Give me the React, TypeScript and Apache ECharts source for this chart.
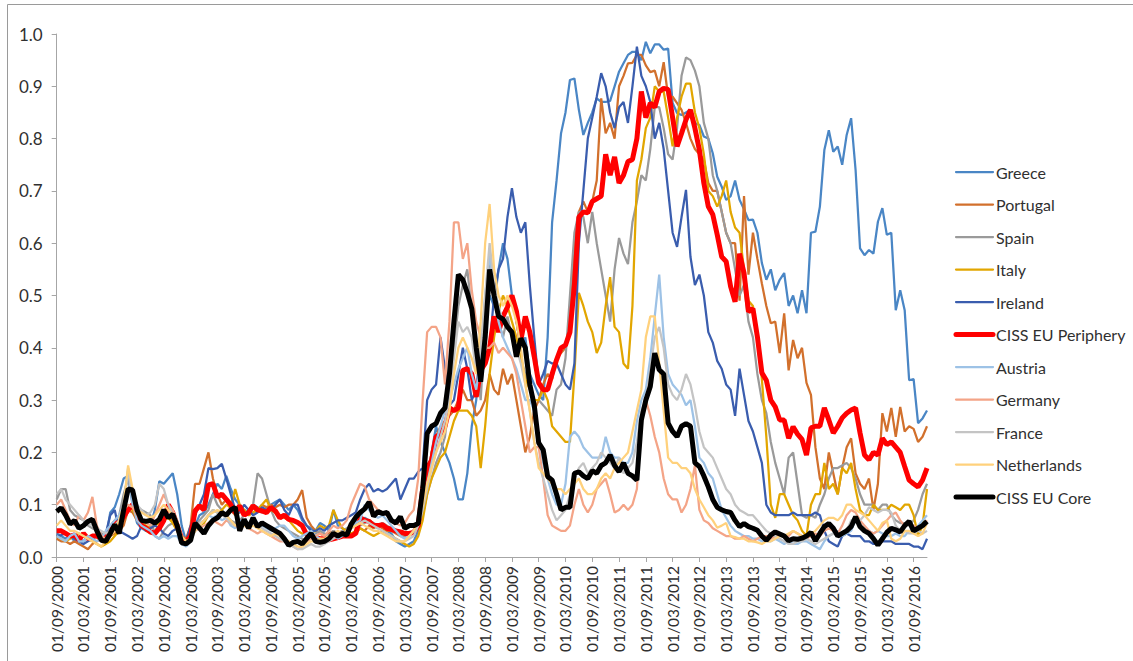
import React, { useEffect, useRef } from "react";
import * as echarts from "echarts";

// Monthly categories from 01/09/2000 to 01/12/2016
const START_YEAR = 2000;
const START_MONTH = 9;
const MONTH_COUNT = 196;
const categories: string[] = [];
for (let i = 0; i < MONTH_COUNT; i++) {
  const m = START_MONTH - 1 + i;
  const y = START_YEAR + Math.floor(m / 12);
  const mm = (m % 12) + 1;
  categories.push(`01/${String(mm).padStart(2, "0")}/${y}`);
}

const yTicks = [0, 0.1, 0.2, 0.3, 0.4, 0.5, 0.6, 0.7, 0.8, 0.9, 1.0];

// each row: Sep..Aug of one year
const greece = [
  0.045,0.04,0.035,0.04,0.03,0.035,0.03,0.04,0.03,0.045,0.03,0.035,
  0.085,0.095,0.12,0.15,0.155,0.1,0.065,0.055,0.05,0.06,0.09,0.145,
  0.14,0.15,0.16,0.12,0.06,0.03,0.035,0.06,0.08,0.085,0.1,0.12,
  0.14,0.13,0.155,0.13,0.11,0.1,0.09,0.085,0.1,0.095,0.085,0.09,
  0.1,0.105,0.11,0.1,0.09,0.1,0.09,0.07,0.06,0.055,0.05,0.065,
  0.06,0.05,0.09,0.06,0.055,0.05,0.06,0.07,0.065,0.075,0.07,0.06,
  0.055,0.06,0.05,0.045,0.03,0.025,0.02,0.025,0.03,0.05,0.09,0.14,
  0.2,0.25,0.22,0.2,0.18,0.15,0.11,0.11,0.16,0.25,0.3,0.4,
  0.45,0.5,0.48,0.55,0.6,0.57,0.5,0.45,0.4,0.42,0.35,0.33,
  0.31,0.3,0.42,0.64,0.72,0.81,0.85,0.912,0.915,0.855,0.807,0.83,
  0.85,0.877,0.87,0.87,0.872,0.9,0.928,0.944,0.96,0.966,0.966,0.95,
  0.985,0.963,0.98,0.98,0.97,0.972,0.868,0.849,0.845,0.85,0.855,0.83,
  0.826,0.804,0.8,0.772,0.727,0.708,0.683,0.69,0.72,0.683,0.665,0.644,
  0.645,0.62,0.562,0.53,0.55,0.51,0.53,0.543,0.48,0.5,0.466,0.51,
  0.466,0.62,0.622,0.67,0.778,0.816,0.775,0.785,0.75,0.807,0.839,0.74,
  0.59,0.577,0.587,0.58,0.641,0.667,0.616,0.62,0.472,0.51,0.472,0.338,
  0.34,0.256,0.265,0.28,
];

const portugal = [
  0.035,0.03,0.03,0.025,0.03,0.025,0.02,0.015,0.025,0.03,0.035,0.04,
  0.04,0.045,0.05,0.06,0.09,0.085,0.07,0.06,0.05,0.045,0.05,0.06,
  0.07,0.08,0.07,0.06,0.04,0.035,0.06,0.14,0.14,0.17,0.2,0.15,
  0.12,0.1,0.11,0.09,0.08,0.085,0.09,0.08,0.085,0.09,0.1,0.095,
  0.1,0.095,0.1,0.095,0.1,0.1,0.11,0.128,0.075,0.06,0.05,0.045,
  0.04,0.045,0.05,0.045,0.05,0.045,0.04,0.045,0.055,0.05,0.06,0.055,
  0.06,0.055,0.05,0.05,0.045,0.04,0.04,0.045,0.05,0.06,0.1,0.14,
  0.2,0.23,0.25,0.26,0.27,0.28,0.3,0.32,0.3,0.3,0.27,0.28,
  0.3,0.35,0.32,0.31,0.36,0.33,0.35,0.3,0.25,0.2,0.23,0.28,
  0.3,0.33,0.35,0.34,0.38,0.39,0.4,0.45,0.6,0.66,0.68,0.66,
  0.68,0.72,0.877,0.81,0.83,0.8,0.9,0.92,0.944,0.945,0.96,0.96,
  0.94,0.927,0.93,0.9,0.946,0.88,0.88,0.868,0.855,0.83,0.8,0.78,
  0.77,0.76,0.715,0.7,0.7,0.66,0.62,0.6,0.6,0.49,0.69,0.54,
  0.62,0.57,0.523,0.48,0.447,0.45,0.39,0.466,0.357,0.415,0.38,0.4,
  0.333,0.31,0.21,0.15,0.13,0.2,0.16,0.12,0.17,0.21,0.227,0.16,
  0.14,0.13,0.15,0.09,0.14,0.275,0.24,0.285,0.23,0.287,0.24,0.25,
  0.245,0.22,0.23,0.25,
];

const spain = [
  0.11,0.13,0.13,0.09,0.08,0.075,0.07,0.06,0.055,0.05,0.045,0.04,
  0.06,0.07,0.08,0.12,0.15,0.11,0.095,0.09,0.085,0.08,0.04,0.035,
  0.05,0.06,0.065,0.05,0.035,0.03,0.04,0.06,0.07,0.08,0.09,0.12,
  0.1,0.09,0.08,0.07,0.065,0.07,0.08,0.09,0.1,0.16,0.15,0.12,
  0.09,0.07,0.06,0.055,0.05,0.045,0.04,0.035,0.03,0.04,0.045,0.05,
  0.045,0.04,0.05,0.045,0.05,0.055,0.06,0.065,0.06,0.065,0.07,0.065,
  0.06,0.065,0.06,0.055,0.05,0.045,0.04,0.045,0.05,0.06,0.08,0.12,
  0.15,0.18,0.2,0.23,0.3,0.4,0.48,0.52,0.55,0.47,0.38,0.3,
  0.45,0.58,0.5,0.45,0.42,0.46,0.42,0.4,0.38,0.35,0.33,0.3,
  0.3,0.29,0.28,0.27,0.32,0.33,0.38,0.5,0.62,0.66,0.65,0.6,
  0.66,0.6,0.55,0.5,0.45,0.55,0.61,0.58,0.56,0.64,0.68,0.73,
  0.72,0.78,0.86,0.86,0.82,0.77,0.76,0.82,0.92,0.955,0.95,0.93,
  0.9,0.83,0.8,0.73,0.7,0.66,0.62,0.6,0.55,0.5,0.52,0.45,
  0.42,0.35,0.3,0.275,0.22,0.18,0.15,0.12,0.19,0.2,0.14,0.08,
  0.075,0.08,0.075,0.1,0.12,0.15,0.17,0.17,0.175,0.18,0.17,0.15,
  0.12,0.1,0.1,0.1,0.09,0.1,0.1,0.08,0.07,0.065,0.065,0.06,
  0.07,0.09,0.12,0.14,
];

const italy = [
  0.04,0.035,0.03,0.035,0.04,0.045,0.04,0.035,0.03,0.025,0.02,0.025,
  0.03,0.04,0.05,0.08,0.095,0.09,0.075,0.07,0.06,0.055,0.06,0.065,
  0.07,0.075,0.065,0.05,0.035,0.03,0.04,0.05,0.06,0.065,0.08,0.09,
  0.085,0.09,0.1,0.095,0.13,0.1,0.09,0.08,0.085,0.09,0.1,0.11,
  0.09,0.085,0.08,0.075,0.07,0.06,0.05,0.045,0.04,0.045,0.05,0.06,
  0.055,0.06,0.09,0.07,0.055,0.05,0.045,0.05,0.055,0.05,0.045,0.04,
  0.045,0.05,0.045,0.04,0.035,0.03,0.025,0.02,0.025,0.04,0.07,0.12,
  0.15,0.17,0.19,0.2,0.23,0.26,0.28,0.28,0.28,0.27,0.25,0.17,
  0.25,0.35,0.42,0.47,0.5,0.48,0.45,0.42,0.38,0.34,0.32,0.3,
  0.3,0.32,0.3,0.25,0.24,0.23,0.22,0.22,0.35,0.505,0.48,0.45,
  0.43,0.39,0.41,0.48,0.535,0.44,0.43,0.37,0.36,0.48,0.72,0.76,
  0.82,0.84,0.9,0.89,0.89,0.84,0.785,0.84,0.88,0.905,0.905,0.85,
  0.82,0.77,0.7,0.69,0.67,0.69,0.72,0.66,0.63,0.62,0.55,0.49,
  0.48,0.42,0.34,0.23,0.1,0.075,0.12,0.12,0.1,0.08,0.07,0.05,
  0.04,0.1,0.12,0.12,0.18,0.13,0.14,0.12,0.17,0.16,0.18,0.13,
  0.09,0.08,0.08,0.1,0.09,0.09,0.09,0.1,0.095,0.09,0.1,0.1,
  0.08,0.04,0.06,0.13,
];

const ireland = [
  0.04,0.042,0.045,0.04,0.035,0.03,0.025,0.03,0.035,0.04,0.035,0.045,
  0.08,0.09,0.05,0.045,0.04,0.035,0.04,0.06,0.05,0.055,0.06,0.055,
  0.045,0.04,0.05,0.055,0.04,0.03,0.06,0.08,0.1,0.12,0.17,0.168,
  0.17,0.178,0.15,0.12,0.09,0.085,0.1,0.09,0.08,0.085,0.095,0.09,
  0.09,0.1,0.11,0.09,0.08,0.1,0.1,0.075,0.06,0.05,0.05,0.055,
  0.05,0.06,0.065,0.07,0.07,0.075,0.08,0.085,0.11,0.13,0.14,0.125,
  0.13,0.125,0.13,0.14,0.15,0.11,0.13,0.15,0.15,0.163,0.17,0.3,
  0.32,0.33,0.42,0.36,0.29,0.3,0.35,0.4,0.36,0.3,0.32,0.4,
  0.38,0.4,0.5,0.55,0.57,0.65,0.705,0.65,0.62,0.64,0.52,0.42,
  0.33,0.35,0.375,0.37,0.37,0.35,0.33,0.32,0.37,0.6,0.7,0.8,
  0.84,0.88,0.925,0.9,0.85,0.82,0.86,0.87,0.83,0.9,0.976,0.92,
  0.9,0.87,0.8,0.83,0.78,0.7,0.62,0.593,0.65,0.702,0.574,0.52,
  0.54,0.5,0.43,0.41,0.375,0.36,0.33,0.32,0.27,0.36,0.31,0.26,
  0.24,0.21,0.18,0.1,0.085,0.08,0.08,0.08,0.08,0.085,0.08,0.08,
  0.08,0.08,0.085,0.08,0.05,0.03,0.025,0.02,0.04,0.045,0.04,0.04,
  0.04,0.03,0.03,0.025,0.025,0.03,0.03,0.03,0.025,0.025,0.025,0.025,
  0.02,0.02,0.015,0.035,
];

const cissPeriphery = [
  0.05,0.05,0.045,0.04,0.042,0.033,0.045,0.035,0.04,0.04,0.035,0.04,
  0.045,0.065,0.065,0.077,0.09,0.1,0.085,0.06,0.055,0.048,0.045,0.055,
  0.07,0.1,0.085,0.06,0.035,0.03,0.04,0.088,0.098,0.09,0.138,0.14,
  0.115,0.12,0.11,0.1,0.085,0.098,0.08,0.085,0.098,0.09,0.088,0.085,
  0.095,0.088,0.075,0.08,0.072,0.07,0.066,0.06,0.043,0.04,0.037,0.035,
  0.035,0.033,0.035,0.037,0.04,0.04,0.04,0.045,0.075,0.07,0.068,0.06,
  0.06,0.062,0.055,0.053,0.05,0.048,0.045,0.045,0.047,0.06,0.13,0.17,
  0.185,0.23,0.235,0.25,0.285,0.28,0.285,0.357,0.36,0.35,0.306,0.357,
  0.37,0.4,0.46,0.43,0.46,0.478,0.5,0.47,0.415,0.46,0.43,0.383,
  0.333,0.32,0.32,0.35,0.377,0.4,0.405,0.43,0.52,0.65,0.66,0.658,
  0.68,0.685,0.69,0.77,0.73,0.765,0.715,0.73,0.756,0.76,0.8,0.89,
  0.84,0.868,0.86,0.89,0.896,0.894,0.84,0.785,0.81,0.836,0.855,0.82,
  0.778,0.715,0.67,0.655,0.616,0.574,0.565,0.517,0.488,0.58,0.543,0.469,
  0.475,0.421,0.352,0.338,0.3,0.287,0.262,0.262,0.227,0.249,0.235,0.225,
  0.195,0.247,0.25,0.25,0.285,0.262,0.237,0.25,0.266,0.275,0.281,0.285,
  0.237,0.195,0.186,0.2,0.195,0.227,0.215,0.22,0.21,0.2,0.173,0.147,
  0.14,0.134,0.147,0.17,
];

const austria = [
  0.04,0.035,0.03,0.04,0.045,0.03,0.03,0.04,0.035,0.03,0.035,0.05,
  0.06,0.07,0.08,0.1,0.17,0.1,0.07,0.06,0.055,0.05,0.04,0.035,
  0.04,0.035,0.04,0.04,0.025,0.02,0.03,0.05,0.06,0.07,0.08,0.075,
  0.08,0.07,0.075,0.06,0.055,0.07,0.065,0.06,0.07,0.065,0.06,0.055,
  0.05,0.055,0.06,0.06,0.05,0.04,0.035,0.04,0.045,0.05,0.04,0.035,
  0.03,0.035,0.045,0.035,0.04,0.05,0.06,0.065,0.07,0.1,0.09,0.08,
  0.075,0.08,0.07,0.06,0.05,0.04,0.035,0.04,0.05,0.07,0.1,0.14,
  0.18,0.22,0.25,0.28,0.3,0.33,0.36,0.38,0.4,0.35,0.32,0.38,
  0.5,0.58,0.5,0.45,0.42,0.4,0.38,0.36,0.33,0.3,0.3,0.28,
  0.22,0.18,0.15,0.12,0.1,0.1,0.14,0.23,0.24,0.23,0.21,0.2,
  0.19,0.19,0.19,0.23,0.2,0.19,0.19,0.18,0.18,0.2,0.26,0.3,
  0.32,0.38,0.46,0.54,0.42,0.35,0.33,0.32,0.31,0.29,0.3,0.25,
  0.19,0.18,0.16,0.15,0.12,0.09,0.075,0.06,0.05,0.045,0.04,0.04,
  0.035,0.035,0.03,0.03,0.03,0.035,0.03,0.025,0.03,0.025,0.025,0.03,
  0.03,0.025,0.02,0.015,0.03,0.04,0.045,0.05,0.04,0.045,0.05,0.07,
  0.06,0.05,0.05,0.045,0.05,0.045,0.04,0.04,0.045,0.04,0.04,0.05,
  0.05,0.06,0.07,0.08,
];

const germany = [
  0.1,0.11,0.09,0.07,0.06,0.08,0.07,0.085,0.115,0.06,0.04,0.035,
  0.05,0.06,0.07,0.09,0.1,0.095,0.08,0.07,0.065,0.06,0.08,0.1,
  0.12,0.1,0.09,0.07,0.03,0.025,0.035,0.05,0.055,0.06,0.065,0.07,
  0.065,0.06,0.07,0.065,0.06,0.055,0.06,0.055,0.05,0.045,0.05,0.045,
  0.04,0.035,0.03,0.03,0.025,0.02,0.015,0.02,0.03,0.035,0.04,0.045,
  0.04,0.05,0.06,0.055,0.06,0.07,0.1,0.12,0.14,0.135,0.11,0.1,
  0.09,0.085,0.08,0.07,0.065,0.06,0.065,0.08,0.09,0.15,0.3,0.43,
  0.44,0.44,0.42,0.33,0.45,0.64,0.64,0.57,0.6,0.51,0.45,0.42,
  0.4,0.4,0.41,0.39,0.4,0.39,0.38,0.35,0.3,0.25,0.2,0.21,
  0.21,0.15,0.08,0.06,0.055,0.05,0.05,0.06,0.1,0.13,0.1,0.085,
  0.1,0.13,0.14,0.15,0.12,0.085,0.09,0.1,0.09,0.1,0.13,0.27,
  0.3,0.27,0.23,0.2,0.15,0.12,0.11,0.11,0.085,0.1,0.13,0.175,
  0.09,0.07,0.065,0.055,0.05,0.045,0.04,0.04,0.035,0.035,0.04,0.035,
  0.03,0.035,0.04,0.04,0.035,0.04,0.045,0.04,0.04,0.05,0.045,0.04,
  0.035,0.04,0.045,0.04,0.05,0.055,0.05,0.045,0.06,0.08,0.09,0.085,
  0.07,0.06,0.05,0.045,0.05,0.06,0.07,0.08,0.085,0.07,0.06,0.065,
  0.06,0.055,0.06,0.07,
];

const france = [
  0.12,0.13,0.11,0.1,0.09,0.08,0.07,0.065,0.06,0.055,0.05,0.045,
  0.05,0.06,0.07,0.1,0.165,0.12,0.1,0.09,0.08,0.085,0.1,0.14,
  0.13,0.1,0.08,0.06,0.03,0.025,0.03,0.05,0.065,0.07,0.08,0.09,
  0.085,0.08,0.075,0.065,0.06,0.065,0.07,0.065,0.06,0.06,0.055,0.05,
  0.045,0.04,0.035,0.03,0.025,0.02,0.015,0.015,0.02,0.025,0.02,0.02,
  0.025,0.03,0.035,0.04,0.045,0.05,0.055,0.06,0.065,0.07,0.065,0.06,
  0.055,0.05,0.045,0.04,0.035,0.03,0.03,0.035,0.04,0.06,0.09,0.13,
  0.17,0.2,0.23,0.26,0.3,0.38,0.45,0.43,0.44,0.42,0.35,0.4,
  0.5,0.6,0.52,0.48,0.45,0.44,0.42,0.4,0.37,0.33,0.28,0.22,
  0.18,0.15,0.12,0.09,0.07,0.08,0.09,0.12,0.15,0.17,0.18,0.16,
  0.17,0.18,0.2,0.19,0.18,0.17,0.19,0.16,0.17,0.18,0.22,0.28,
  0.3,0.36,0.42,0.44,0.4,0.33,0.31,0.3,0.32,0.35,0.33,0.29,
  0.24,0.21,0.2,0.19,0.17,0.15,0.13,0.12,0.1,0.09,0.085,0.08,
  0.08,0.07,0.06,0.05,0.045,0.04,0.035,0.03,0.025,0.025,0.03,0.03,
  0.035,0.03,0.025,0.03,0.035,0.04,0.045,0.04,0.045,0.05,0.07,0.075,
  0.07,0.08,0.095,0.09,0.085,0.09,0.09,0.085,0.06,0.05,0.05,0.045,
  0.045,0.05,0.045,0.05,
];

const netherlands = [
  0.06,0.07,0.06,0.05,0.05,0.045,0.04,0.035,0.03,0.025,0.02,0.03,
  0.04,0.05,0.07,0.1,0.175,0.13,0.09,0.085,0.08,0.075,0.08,0.09,
  0.1,0.09,0.08,0.065,0.04,0.03,0.035,0.05,0.06,0.07,0.08,0.085,
  0.09,0.085,0.08,0.07,0.06,0.065,0.06,0.055,0.06,0.055,0.05,0.045,
  0.04,0.045,0.04,0.035,0.03,0.025,0.02,0.02,0.025,0.03,0.03,0.035,
  0.035,0.04,0.045,0.05,0.045,0.05,0.055,0.06,0.065,0.06,0.055,0.05,
  0.05,0.045,0.04,0.035,0.03,0.03,0.03,0.04,0.05,0.07,0.1,0.14,
  0.17,0.2,0.22,0.24,0.28,0.35,0.4,0.42,0.4,0.38,0.35,0.45,
  0.6,0.675,0.55,0.5,0.48,0.5,0.48,0.45,0.4,0.33,0.28,0.22,
  0.17,0.16,0.15,0.14,0.13,0.13,0.12,0.13,0.14,0.15,0.13,0.12,
  0.12,0.13,0.15,0.16,0.15,0.17,0.18,0.19,0.2,0.24,0.28,0.32,
  0.42,0.46,0.46,0.37,0.28,0.19,0.18,0.18,0.17,0.17,0.16,0.13,
  0.11,0.095,0.08,0.07,0.056,0.06,0.065,0.04,0.038,0.035,0.035,0.03,
  0.03,0.028,0.025,0.03,0.03,0.035,0.04,0.04,0.045,0.05,0.045,0.04,
  0.04,0.045,0.05,0.06,0.07,0.075,0.075,0.07,0.08,0.1,0.1,0.09,
  0.085,0.08,0.07,0.06,0.05,0.065,0.07,0.035,0.03,0.035,0.05,0.05,
  0.045,0.04,0.045,0.065,
];

const cissCore = [
  0.087,0.094,0.08,0.063,0.07,0.055,0.06,0.068,0.072,0.05,0.032,0.03,
  0.045,0.062,0.045,0.09,0.13,0.128,0.09,0.07,0.068,0.07,0.065,0.072,
  0.09,0.075,0.082,0.06,0.027,0.025,0.032,0.065,0.055,0.045,0.06,0.07,
  0.075,0.085,0.08,0.09,0.095,0.05,0.072,0.055,0.075,0.058,0.065,0.06,
  0.055,0.05,0.045,0.035,0.022,0.028,0.03,0.025,0.035,0.045,0.03,0.028,
  0.03,0.035,0.045,0.04,0.045,0.042,0.063,0.076,0.085,0.092,0.105,0.078,
  0.087,0.083,0.085,0.07,0.065,0.077,0.055,0.06,0.06,0.064,0.13,0.236,
  0.25,0.255,0.275,0.285,0.35,0.45,0.54,0.53,0.505,0.475,0.4,0.335,
  0.42,0.55,0.5,0.46,0.455,0.44,0.43,0.383,0.418,0.4,0.33,0.29,
  0.218,0.205,0.154,0.147,0.12,0.09,0.095,0.095,0.16,0.163,0.155,0.15,
  0.165,0.16,0.175,0.18,0.195,0.175,0.163,0.18,0.16,0.155,0.147,0.262,
  0.3,0.326,0.39,0.358,0.35,0.256,0.24,0.23,0.25,0.255,0.25,0.18,
  0.173,0.155,0.134,0.11,0.095,0.09,0.087,0.085,0.07,0.058,0.064,0.058,
  0.055,0.051,0.04,0.032,0.042,0.048,0.044,0.04,0.031,0.035,0.034,0.036,
  0.04,0.047,0.031,0.045,0.058,0.064,0.055,0.04,0.045,0.05,0.058,0.077,
  0.058,0.05,0.045,0.035,0.023,0.035,0.047,0.055,0.052,0.048,0.06,0.068,
  0.05,0.055,0.06,0.068,
];

const seriesDefs = [
  { name: "Greece", data: greece, color: "#4A86C5", width: 2.25 },
  { name: "Portugal", data: portugal, color: "#D2702C", width: 2.25 },
  { name: "Spain", data: spain, color: "#9A9A9A", width: 2.25 },
  { name: "Italy", data: italy, color: "#E2A600", width: 2.25 },
  { name: "Ireland", data: ireland, color: "#3A5DAE", width: 2.25 },
  { name: "CISS EU Periphery", data: cissPeriphery, color: "#FF0000", width: 5 },
  { name: "Austria", data: austria, color: "#9DC2E6", width: 2.25 },
  { name: "Germany", data: germany, color: "#F4A487", width: 2.25 },
  { name: "France", data: france, color: "#C4C4C4", width: 2.25 },
  { name: "Netherlands", data: netherlands, color: "#FFD17C", width: 2.25 },
  { name: "CISS EU Core", data: cissCore, color: "#000000", width: 5 },
];

const FONT = "Lato, 'Liberation Sans', sans-serif";
const TEXT_COLOR = "#303030";
const AXIS_COLOR = "#A6A6A6";

// legend layout
const LEG_X = 956;
const LEG_Y0 = 172;
const LEG_STEP = 32.5;
const LEG_LINE = 37;

export default function App() {
  const ref = useRef<HTMLDivElement>(null);
  useEffect(() => {
    if (!ref.current) return;
    const chart = echarts.init(ref.current, undefined, { renderer: "svg" });

    const legendGraphics: any[] = [];
    seriesDefs.forEach((s, i) => {
      const y = LEG_Y0 + i * LEG_STEP;
      legendGraphics.push({
        type: "line",
        silent: true,
        shape: { x1: LEG_X, y1: y, x2: LEG_X + LEG_LINE, y2: y },
        style: { stroke: s.color, lineWidth: s.width, lineCap: "round" },
      });
      legendGraphics.push({
        type: "text",
        silent: true,
        x: LEG_X + LEG_LINE + 3,
        y: y,
        style: {
          text: s.name,
          fill: TEXT_COLOR,
          font: `16px ${FONT}`,
          verticalAlign: "middle",
          align: "left",
        },
      });
    });

    chart.setOption({
      animation: false,
      backgroundColor: "#ffffff",
      grid: { left: 56.7, right: 206, top: 34, bottom: 104, outerBoundsMode: "none" },
      xAxis: {
        type: "category",
        data: categories,
        boundaryGap: false,
        axisLine: { show: true, lineStyle: { color: AXIS_COLOR, width: 1 } },
        axisTick: { show: true, interval: 5, length: 5, lineStyle: { color: AXIS_COLOR } },
        axisLabel: {
          interval: 5,
          rotate: 90,
          margin: 9,
          color: TEXT_COLOR,
          fontSize: 15.5,
          fontFamily: FONT,
        },
        splitLine: { show: false },
      },
      yAxis: {
        type: "value",
        min: yTicks[0],
        max: yTicks[yTicks.length - 1],
        interval: 0.1,
        axisLine: { show: true, lineStyle: { color: AXIS_COLOR, width: 1 } },
        axisTick: { show: true, length: 5, lineStyle: { color: AXIS_COLOR } },
        axisLabel: {
          margin: 14,
          color: TEXT_COLOR,
          fontSize: 17,
          fontFamily: FONT,
          formatter: (v: number) => v.toFixed(1),
        },
        splitLine: { show: false },
      },
      graphic: [
        {
          type: "rect",
          silent: true,
          z: -10,
          shape: { x: 7.5, y: 4.5, width: 1200, height: 700 },
          style: { fill: "none", stroke: "#9A9A9A", lineWidth: 1 },
        },
        ...legendGraphics,
      ],
      series: seriesDefs.map((s) => ({
        name: s.name,
        type: "line",
        data: s.data,
        symbol: "none",
        smooth: false,
        lineStyle: { color: s.color, width: s.width },
        itemStyle: { color: s.color },
        emphasis: { disabled: true },
      })),
    });
    return () => chart.dispose();
  }, []);
  return (
    <div
      ref={ref}
      style={{ position: "absolute", left: 0, top: 0, width: 1133, height: 661 }}
    />
  );
}
